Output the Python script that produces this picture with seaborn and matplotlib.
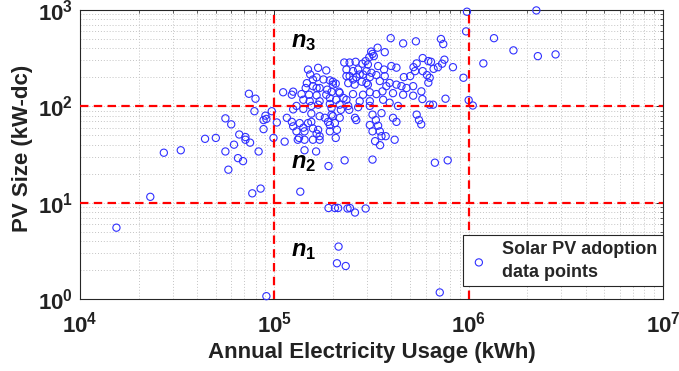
import matplotlib
matplotlib.use("Agg")
import matplotlib.pyplot as plt
import seaborn as sns
import pandas as pd
from matplotlib.ticker import NullFormatter, LogLocator

# ---- data ----
usage_kwh = [
    1.54e4, 2.3e4, 2.7e4, 3.3e4, 4.4e4, 5.0e4, 5.6e4, 6.2e4, 6.5e4, 6.9e4,
    5.8e4, 8.3e4, 7.5e4, 7.1e4, 7.7e4, 8.5e4, 9.1e4, 7.4e4, 8.0e4, 7.9e4,
    9.0e4, 8.8e4, 9.7e4, 8.8e4, 1.03e5, 9.9e4, 5.6e4, 6.0e4, 6.6e4, 7.1e4,
    1.9e5, 2.05e5, 2.13e5, 2.38e5, 2.45e5, 2.6e5, 2.95e5, 2.14e5, 2.1e5, 2.33e5,
    7.1e5, 1.13e5, 1.32e5, 1.43e5, 1.58e5, 1.71e5, 1.43e5, 1.64e5, 1.9e5, 2.3e5,
    3.2e5, 1.36e5, 3.3e5, 3.5e5, 4.16e5, 6.7e5, 7.8e5, 1.16e5, 1.23e5, 1.25e5,
    1.35e5, 1.41e5, 1.49e5, 1.55e5, 1.3e5, 1.34e5, 1.68e5, 1.71e5, 1.65e5, 1.82e5,
    1.89e5, 2.0e5, 2.1e5, 2.17e5, 1.93e5, 2.6e5, 2.64e5, 3.2e5, 3.56e5, 3.33e5,
    3.1e5, 3.42e5, 3.2e5, 3.49e5, 3.56e5, 3.74e5, 4.08e5, 4.25e5, 5.4e5, 5.55e5,
    5.7e5, 1.3e5, 1.41e5, 1.55e5, 1.68e5, 1.93e5, 2.17e5, 2.4e5, 2.43e5, 2.7e5,
    1.97e5, 6.3e5, 6.56e5, 5.78e5, 4.33e5, 1.0e6, 1.05e6, 7.6e5, 1.11e5, 1.23e5,
    1.25e5, 1.38e5, 1.51e5, 1.65e5, 1.85e5, 1.45e5, 1.47e5, 1.58e5, 1.71e5, 1.87e5,
    1.97e5, 2.17e5, 1.49e5, 1.68e5, 1.85e5, 1.53e5, 1.65e5, 1.79e5, 1.93e5, 2.0e5,
    2.07e5, 2.29e5, 2.44e5, 2.62e5, 2.84e5, 3.03e5, 3.42e5, 3.67e5, 4.0e5, 4.25e5,
    2.35e5, 2.54e5, 2.7e5, 2.98e5, 3.16e5, 2.44e5, 2.64e5, 2.86e5, 3.1e5, 3.35e5,
    3.7e5, 2.4e5, 2.59e5, 2.82e5, 3.03e5, 3.49e5, 3.92e5, 3.77e5, 4.25e5, 4.51e5,
    4.79e5, 5.18e5, 5.71e5, 5.18e5, 4.6e5, 4.08e5, 3.6e5, 3.35e5, 3.1e5, 2.86e5,
    2.54e5, 2.35e5, 2.75e5, 3.1e5, 3.63e5, 3.92e5, 3.4e5, 3.15e5, 3.7e5, 3.25e5,
    3.08e5, 2.95e5, 3.97e5, 4.6e5, 5.35e5, 7.2e5, 7.4e5, 5.8e5, 6.2e5, 6.4e5,
    5.4e5, 7.5e5, 7.3e5, 6.95e5, 8.3e5, 6.6e5, 5.2e5, 5.3e5, 5.8e5, 6.1e5,
    6.3e5, 6.2e5, 5.0e5, 4.64e5, 9.4e5, 1.19e6, 1.35e6, 1.7e6, 2.27e6, 2.8e6,
    2.23e6, 9.8e5, 9.7e5, 1.58e5, 2.0e5, 1.65e5, 2.15e5, 2.35e5, 2.54e5, 2.75e5,
    2.98e5, 2.27e5, 1.41e5, 1.52e5, 1.71e5, 1.93e5, 2.08e5, 3.2e5, 1.25e5, 1.55e5,
    1.71e5, 1.97e5, 2.2e5, 3.1e5, 1.43e5, 1.58e5, 2.05e5, 1.93e5, 2.07e5, 9.1e4,
]
pv_size_kw = [
    5.5, 11.5, 33, 35, 46, 47, 34, 40, 29, 27,
    22, 34, 42, 45, 12.5, 14, 1.07, 135, 120, 89,
    80, 72, 89, 58, 68, 47, 75, 65, 51, 48,
    8.8, 8.8, 8.8, 8.7, 8.8, 7.9, 8.7, 3.5, 2.35, 2.2,
    1.17, 43, 45, 45, 45, 45, 35, 34, 24, 27.5,
    28, 13, 43.5, 39.5, 45, 26, 27.5, 76, 69, 62,
    67, 60, 67, 69, 55, 47, 57, 49, 52, 76,
    69, 79, 57, 76, 64, 76, 72, 82, 85, 72,
    64, 63, 55, 55, 49, 49, 76, 69, 82, 72,
    65, 101, 94, 101, 104, 106, 104, 101, 92, 98,
    96, 104, 104, 119, 101, 116, 102, 120, 140, 132,
    142, 134, 132, 130, 132, 155, 174, 162, 155, 149,
    141, 138, 241, 251, 236, 214, 200, 190, 186, 180,
    172, 285, 285, 290, 277, 272, 262, 241, 262, 252,
    241, 232, 241, 232, 223, 206, 201, 214, 201, 211,
    206, 174, 168, 180, 168, 183, 175, 162, 168, 162,
    155, 162, 143, 129, 132, 137, 143, 134, 140, 132,
    134, 117, 113, 113, 117, 109, 406, 370, 365, 332,
    324, 295, 510, 450, 473, 500, 443, 317, 295, 290,
    279, 305, 277, 255, 255, 245, 255, 232, 232, 211,
    198, 176, 206, 201, 198, 279, 510, 381, 332, 346,
    990, 960, 600, 190, 168, 155, 142, 206, 190, 214,
    175, 122, 117, 113, 113, 122, 117, 350, 93, 84,
    79, 82, 92, 101, 55, 59, 67, 55, 47, 74,
]
usage_thresholds = [1e5, 1e6]
size_thresholds = [10, 100]
region_labels = [r"$n_{1}$", r"$n_{2}$", r"$n_{3}$"]
region_label_x = 1.22e5
region_label_y = [2.8, 22.8, 410]
x_ticks = [1e4, 1e5, 1e6, 1e7]
x_tick_labels = [r"$10^{4}$", r"$10^{5}$", r"$10^{6}$", r"$10^{7}$"]
y_ticks = [1e0, 1e1, 1e2, 1e3]
y_tick_labels = [r"$10^{0}$", r"$10^{1}$", r"$10^{2}$", r"$10^{3}$"]
legend_label = "Solar PV adoption\ndata points"

df = pd.DataFrame({"usage": usage_kwh, "size": pv_size_kw})

sns.set_style("white")
plt.rcParams["font.family"] = ["Liberation Sans", "DejaVu Sans"]
plt.rcParams["font.weight"] = "bold"
plt.rcParams["mathtext.fontset"] = "custom"
plt.rcParams["mathtext.rm"] = "Liberation Sans:bold"
plt.rcParams["mathtext.bf"] = "Liberation Sans:bold"
plt.rcParams["mathtext.it"] = "Liberation Sans:italic:bold"

fig = plt.figure(figsize=(6.79, 3.71), dpi=100)
ax = fig.add_axes([80 / 679, 1 - 299 / 371, (663 - 80) / 679, (299 - 10) / 371])

ax.set_xscale("log")
ax.set_yscale("log")
ax.set_xlim(1e4, 1e7)
ax.set_ylim(1e0, 1e3)

ax.grid(which="both", linestyle=(0, (1, 2)), color="#c4c4c4", linewidth=0.7)
ax.set_axisbelow(True)

sns.scatterplot(data=df, x="usage", y="size", ax=ax, marker="o", s=27,
                facecolors="none", edgecolor="#3030ff", linewidth=0.8,
                label=legend_label, clip_on=False, zorder=3)

for xv in usage_thresholds:
    ax.axvline(xv, color="#ff0000", linewidth=1.6, dashes=(3.8, 2.4), zorder=4)
for yv in size_thresholds:
    ax.axhline(yv, color="#ff0000", linewidth=1.6, dashes=(3.8, 2.4), zorder=4)

for lab, yv in zip(region_labels, region_label_y):
    ax.text(region_label_x, yv, lab, fontsize=17, ha="left", va="baseline",
            color="black", zorder=5)

ax.set_xticks(x_ticks, x_tick_labels)
ax.set_yticks(y_ticks, y_tick_labels)
ax.xaxis.set_minor_locator(LogLocator(base=10, subs=range(2, 10), numticks=20))
ax.yaxis.set_minor_locator(LogLocator(base=10, subs=range(2, 10), numticks=20))
ax.xaxis.set_minor_formatter(NullFormatter())
ax.yaxis.set_minor_formatter(NullFormatter())
ax.tick_params(which="both", direction="in", top=True, right=True,
               labelsize=16, colors="#262626", labelcolor="#222222")
ax.tick_params(which="major", length=5, width=0.7)
ax.tick_params(axis="x", which="major", pad=9)
ax.tick_params(axis="y", which="major", pad=5)
ax.tick_params(which="minor", length=2.5, width=0.5)

for sp in ax.spines.values():
    sp.set_color("#262626")
    sp.set_linewidth(0.8)

ax.set_xlabel("Annual Electricity Usage (kWh)", fontsize=16, fontweight="bold",
              color="#222222", labelpad=3)
ax.set_ylabel("PV Size (kW-dc)", fontsize=16, fontweight="bold",
              color="#222222")
ax.yaxis.set_label_coords(-0.08, 0.52)

leg = ax.legend(loc="lower right", bbox_to_anchor=(1.0, 0.045), borderaxespad=0,
                fancybox=False, framealpha=1, edgecolor="#262626",
                prop={"size": 13, "weight": "bold"}, handletextpad=0.7,
                borderpad=0.3, handlelength=1.2, markerscale=1.0)
leg.get_frame().set_linewidth(0.8)
for t in leg.get_texts():
    t.set_linespacing(1.45)

fig.savefig("out.png", dpi=100)
